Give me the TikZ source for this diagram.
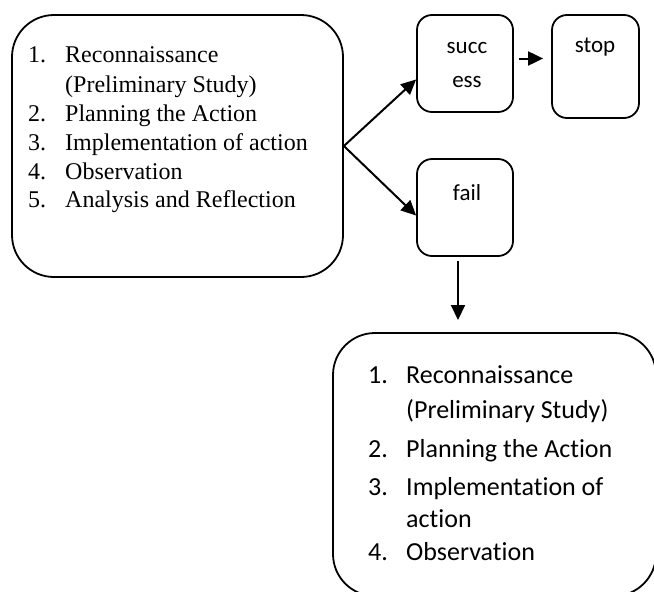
\documentclass[tikz,border=0pt]{standalone}
\usepackage{fontspec}
\setmainfont{Liberation Serif}
\newfontfamily\calib[Ligatures=NoCommon]{Carlito}
\usetikzlibrary{arrows.meta}

\tikzset{
  bigbox/.style={draw, line width=1.8pt, rounded corners=42pt, inner sep=0pt},
  smallbox/.style={draw, line width=1.8pt, rounded corners=15pt, inner sep=0pt},
  arr/.style={line width=2pt, -{Triangle[length=15pt,width=14pt]}},
  seriftext/.style={font=\fontsize{24}{28}\selectfont, inner sep=0pt, anchor=base west},
  caltext/.style={font=\calib\fontsize{26}{30}\selectfont, inner sep=0pt, anchor=base west},
  boxlabel/.style={font=\calib\fontsize{23}{26}\selectfont, inner sep=0pt, anchor=base},
}

\begin{document}
\begin{tikzpicture}[x=1pt,y=-1pt]
    \useasboundingbox (0,0) rectangle (654,592);
    \clip (0,0) rectangle (654,592);
    % left box
    \node [bigbox, minimum width=331pt, minimum height=262pt] (plan) at (177.5,146) {};
    \node [seriftext] (pn1) at (28,62) {1.};
    \node [seriftext] (pt1) at (65,62) {Reconnaissance};
    \node [seriftext] (pt1b) at (65,92) {(Preliminary Study)};
    \node [seriftext] (pn2) at (28,121) {2.};
    \node [seriftext] (pt2) at (65,121) {Planning the Action};
    \node [seriftext] (pn3) at (28,150) {3.};
    \node [seriftext] (pt3) at (65,150) {Implementation of action};
    \node [seriftext] (pn4) at (28,179) {4.};
    \node [seriftext] (pt4) at (65,179) {Observation};
    \node [seriftext] (pn5) at (28,207) {5.};
    \node [seriftext] (pt5) at (65,207) {Analysis and Reflection};
    % success
    \node [smallbox, minimum width=96pt, minimum height=97pt] (succ) at (465,63.5) {};
    \node [boxlabel] (succa) at (467,53) {succ};
    \node [boxlabel] (succb) at (467,87) {ess};
    % stop
    \node [smallbox, minimum width=87pt, minimum height=103pt] (stop) at (595.5,66.5) {};
    \node [boxlabel] (stopl) at (595,52) {stop};
    % fail
    \node [smallbox, minimum width=96pt, minimum height=97pt] (fail) at (465,207.5) {};
    \node [boxlabel] (faill) at (467,200) {fail};
    % bottom box
    \node [bigbox, minimum width=323pt, minimum height=263pt] (redo) at (494.5,464.5) {};
    \node [caltext] (rn1) at (368,383) {1.};
    \node [caltext] (rt1) at (406,383) {Reconnaissance};
    \node [caltext] (rt1b) at (406,418) {(Preliminary Study)};
    \node [caltext] (rn2) at (368,457) {2.};
    \node [caltext] (rt2) at (406,457) {Planning the Action};
    \node [caltext] (rn3) at (368,495) {3.};
    \node [caltext] (rt3) at (406,495) {Implementation of};
    \node [caltext] (rt3b) at (406,527) {action};
    \node [caltext] (rn4) at (368,560) {4.};
    \node [caltext] (rt4) at (406,560) {Observation};
    % arrows
    \coordinate (tip) at (458,320);
    \draw [arr] (plan.east) -- ([yshift=-16pt]succ.west);
    \draw [arr] (plan.east) -- ([yshift=-8pt]fail.west);
    \draw [arr] ([xshift=5pt,yshift=5pt]succ.east) -- ([xshift=-8pt,yshift=8pt]stop.west);
    \draw [arr] ([xshift=-7pt,yshift=-4pt]fail.south) -- (tip);
\end{tikzpicture}
\end{document}
